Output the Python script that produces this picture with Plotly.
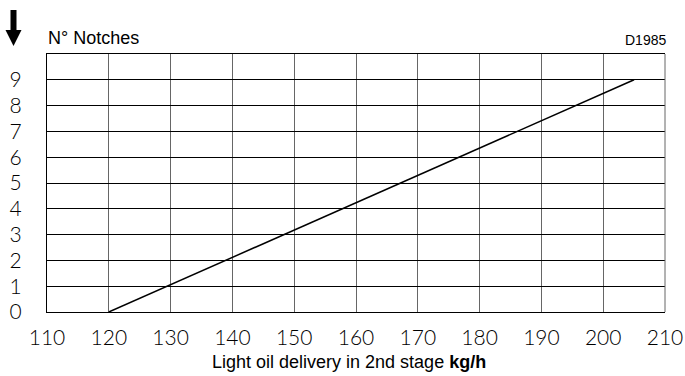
import plotly.graph_objects as go

# Data
delivery_kgh = [120, 205]
notches = [0, 9]
x_ticks = [110, 120, 130, 140, 150, 160, 170, 180, 190, 200, 210]
y_ticks = [0, 1, 2, 3, 4, 5, 6, 7, 8, 9]

fig = go.Figure()
fig.add_trace(go.Scatter(x=delivery_kgh, y=notches, mode="lines",
                         line=dict(color="black", width=1.5),
                         hoverinfo="skip", showlegend=False))

tick_font = dict(family="Lato", size=21, color="black", weight=300)

fig.update_layout(
    width=685, height=376,
    margin=dict(l=47, r=20, t=54, b=64, autoexpand=False),
    paper_bgcolor="white", plot_bgcolor="white",
    xaxis=dict(range=[110, 210], tickvals=x_ticks, ticktext=[str(v) for v in x_ticks],
               showgrid=True, gridcolor="#666", gridwidth=1,
               showline=True, linecolor="black", linewidth=1, mirror=True,
               ticks="", tickfont=tick_font, ticklabelstandoff=7, zeroline=False,
               automargin=False),
    yaxis=dict(range=[0, 10], tickvals=y_ticks, ticktext=[str(v) for v in y_ticks],
               showgrid=True, gridcolor="black", gridwidth=1,
               showline=True, linecolor="black", linewidth=1, mirror=False,
               ticks="", tickfont=tick_font, ticklabelstandoff=20, zeroline=False,
               automargin=False),
    font=dict(family="Liberation Sans", color="black"),
)

# Right border (grey like vertical grid)
fig.add_shape(type="line", xref="paper", yref="paper", x0=1, x1=1, y0=0, y1=1,
              line=dict(color="#666", width=1))

# helpers: page pixel -> paper fraction (plot area page x 47..665, y 54..312)
def px(xp):
    return (xp - 47) / 618.0
def py(yp):
    return (312 - yp) / 258.0

# Arrow at top-left (decoration)
path = (f"M {px(10.5)} {py(10)} L {px(16.5)} {py(10)} L {px(16.5)} {py(30)} "
        f"L {px(21.5)} {py(30)} L {px(13.5)} {py(46)} L {px(5.5)} {py(30)} "
        f"L {px(10.5)} {py(30)} Z")
fig.add_shape(type="path", xref="paper", yref="paper", path=path,
              fillcolor="black", line=dict(color="black", width=0))

fig.add_annotation(text="N° Notches", xref="paper", yref="paper",
                   x=px(46), y=py(38), xanchor="left", yanchor="middle",
                   showarrow=False, font=dict(size=18, family="Liberation Sans"))
fig.add_annotation(text="D1985", xref="paper", yref="paper",
                   x=px(668), y=py(40), xanchor="right", yanchor="middle",
                   showarrow=False, font=dict(size=14, family="Liberation Sans"))
fig.add_annotation(text="Light oil delivery in 2nd stage <b>kg/h</b>",
                   xref="paper", yref="paper", x=px(349), y=py(362),
                   xanchor="center", yanchor="middle", showarrow=False,
                   font=dict(size=18, family="Liberation Sans"))

fig.write_html("out.html", config={"displayModeBar": False},
               post_script="document.body.style.margin='0';document.body.style.overflow='hidden';")
